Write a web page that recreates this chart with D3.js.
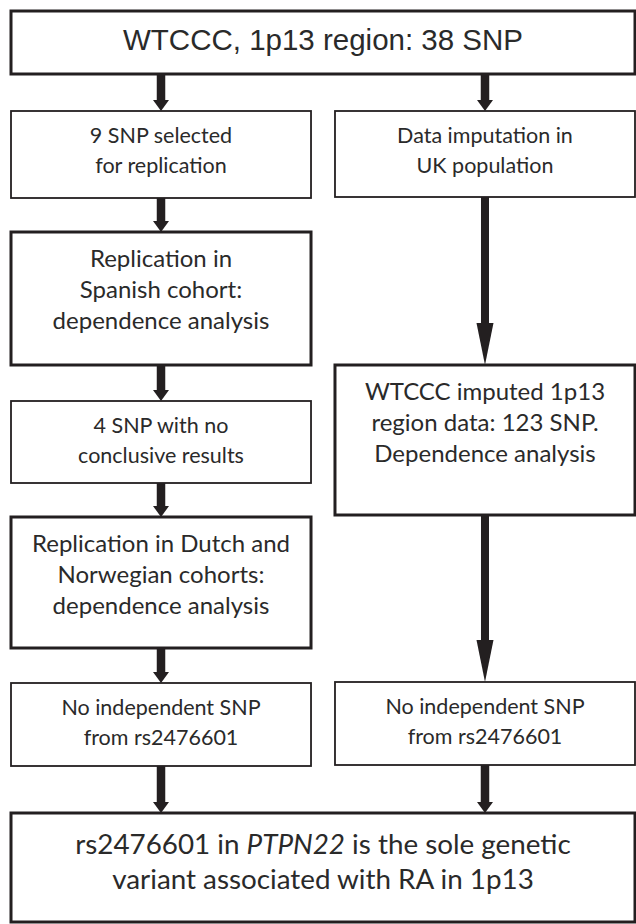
<!DOCTYPE html>
<html>
<head>
<meta charset="utf-8">
<script src="https://cdn.jsdelivr.net/npm/d3@7"></script>
<style>
  body { margin: 0; background: #fff; }
  svg { display: block; }
</style>
</head>
<body>
<div id="chart"></div>
<script>
// flowchart content
var nodeIds = ["top", "sel", "imp", "spa", "wimp", "four", "dutch", "noL", "noR", "final"];
var nodeLines = [
    ["WTCCC, 1p13 region: 38 SNP"],
    ["9 SNP selected", "for replication"],
    ["Data imputation in", "UK population"],
    ["Replication in", "Spanish cohort:", "dependence analysis"],
    ["WTCCC imputed 1p13", "region data: 123 SNP.", "Dependence analysis"],
    ["4 SNP with no", "conclusive results"],
    ["Replication in Dutch and", "Norwegian cohorts:", "dependence analysis"],
    ["No independent SNP", "from rs2476601"],
    ["No independent SNP", "from rs2476601"],
    [["rs2476601 in ", ["PTPN22", true], " is the sole genetic"], "variant associated with RA in 1p13"]
];
var nodeColumns = ["both", "left", "right", "left", "right", "left", "left", "left", "right", "both"];
var nodeBold = [true, false, false, true, true, false, true, false, false, true];
var edgeFrom = ["top", "top", "sel", "imp", "spa", "four", "dutch", "wimp", "noL", "noR"];
var edgeTo   = ["sel", "imp", "spa", "wimp", "four", "dutch", "noL", "noR", "final", "final"];
var columns = ["left", "right"];

// vertical layout (top/bottom of each box), kept apart from the content
var layout = {
    top:   [11, 74],   sel:  [111, 198], imp:   [111, 197],
    spa:   [232, 365], wimp: [365, 515], four:  [401, 483],
    dutch: [517, 648], noL:  [683, 766], noR:   [682, 765],
    final: [813, 922]
};

var W = 636, H = 924;
var ink = "#231f20";

var svg = d3.select("#chart").append("svg")
    .attr("width", W)
    .attr("height", H);

var xCol = d3.scaleBand()
    .domain(columns)
    .range([11, 635])
    .paddingInner(0.074);

function xExtent(col) {
    if (col == "both") return [xCol.range()[0], xCol.range()[1]];
    return [xCol(col), xCol(col) + xCol.bandwidth()];
}

var nodes = nodeIds.map(function(id, i) {
    var xe = xExtent(nodeColumns[i]);
    return { id: id, lines: nodeLines[i], col: nodeColumns[i], bold: nodeBold[i],
             x0: xe[0], x1: xe[1], y0: layout[id][0], y1: layout[id][1] };
});
var byId = {};
nodes.forEach(function(n) { byId[n.id] = n; });

// boxes
svg.append("g").selectAll("rect")
    .data(nodes)
  .enter().append("rect")
    .attr("x", d => d.x0)
    .attr("y", d => d.y0)
    .attr("width", d => d.x1 - d.x0)
    .attr("height", d => d.y1 - d.y0)
    .attr("fill", "#fff")
    .attr("stroke", ink)
    .attr("stroke-width", d => d.bold ? 3 : 1.8);

// text
var textG = svg.append("g");
nodes.forEach(function(n) {
    var isTop = n.id == "top", isFinal = n.id == "final";
    var three = n.lines.length == 3;
    var fs = isTop ? 29.5 : (isFinal ? 27.8 : (three ? 24 : 21.5));
    var lh = isFinal ? 35 : (three ? 31 : 30);
    var pad = isTop ? 39 : (isFinal ? 41 : (three ? 35 : 32));
    var t = textG.append("text")
        .attr("text-anchor", "middle")
        .attr("fill", "#2a2a2a")
        .style("font-family", isTop ? "'Liberation Sans', Arial, sans-serif" : "Lato, 'Open Sans', sans-serif")
        .style("font-size", fs + "px");
    n.lines.forEach(function(line, i) {
        var row = t.append("tspan")
            .attr("x", (n.x0 + n.x1) / 2)
            .attr("y", n.y0 + pad + i * lh);
        if (typeof line == "string") {
            row.text(line);
        } else {
            line.forEach(function(part) {
                if (typeof part == "string") row.append("tspan").text(part);
                else row.append("tspan").style("font-style", "italic").text(part[0]);
            });
        }
    });
});

// arrows
var edges = edgeFrom.map(function(f, i) {
    var a = byId[f], b = byId[edgeTo[i]];
    var src = a.col == "both" ? b : a;
    return { x: (src.x0 + src.x1) / 2, y0: a.y1, y1: b.y0 };
});

var arrowG = svg.append("g");
edges.forEach(function(e) {
    var len = e.y1 - e.y0;
    var headL = len > 80 ? 42 : 11;
    var headW = len > 80 ? 17 : 16;
    var shaftW = len > 80 ? 8 : 8.5;
    arrowG.append("rect")
        .attr("x", e.x - shaftW / 2)
        .attr("y", e.y0)
        .attr("width", shaftW)
        .attr("height", len - headL + 1)
        .attr("fill", ink);
    arrowG.append("path")
        .attr("d", d3.line()([[e.x - headW / 2, e.y1 - headL], [e.x + headW / 2, e.y1 - headL], [e.x, e.y1]]) + "Z")
        .attr("fill", ink);
});
</script>
</body>
</html>
